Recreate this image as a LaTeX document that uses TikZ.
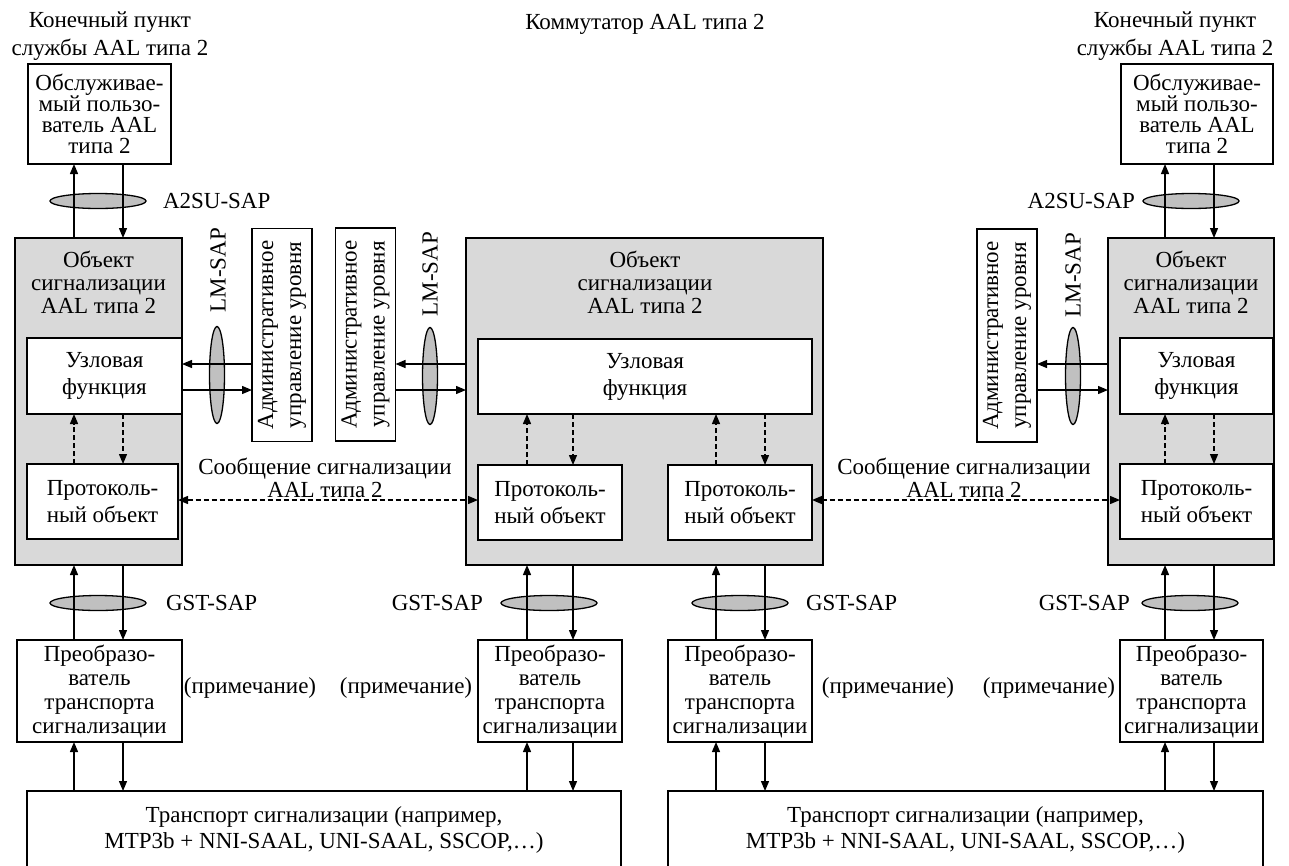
\documentclass[tikz,border=0pt]{standalone}
\usepackage{fontspec}
\setmainfont{Liberation Serif}
\usetikzlibrary{shapes.geometric,arrows.meta}
\definecolor{graybox}{RGB}{217,217,217}
\definecolor{sapgray}{RGB}{192,192,192}
\begin{document}
\begin{tikzpicture}[x=1pt,y=-1pt,
  font=\fontsize{23}{25}\selectfont,
  every node/.style={inner sep=0pt,outer sep=0pt},
  lw/.style={line width=1.3pt},
  box/.style={draw,lw,fill=white,align=center},
  gbox/.style={draw,lw,fill=graybox},
  sap/.style={draw,lw,ellipse,fill=sapgray},
  hsap/.style={sap,minimum width=96pt,minimum height=15pt},
  vsap/.style={sap,minimum width=15pt,minimum height=97pt},
  >={Triangle[length=10pt,width=8pt]},
  arr/.style={lw,->},
  darr/.style={lw,->,dash pattern=on 5pt off 3pt},
  ddarr/.style={lw,<->,dash pattern=on 5pt off 3pt},
  f20/.style={font=\fontsize{23}{21}\selectfont},
  f23/.style={font=\fontsize{23}{23}\selectfont},
  f24/.style={font=\fontsize{23}{24}\selectfont},
  f26/.style={font=\fontsize{23}{26}\selectfont},
  f27/.style={font=\fontsize{23}{27}\selectfont},
  f28/.style={font=\fontsize{23}{28}\selectfont},
  ttl/.style={f23,align=center,anchor=north},
  conv/.style={box,f24,minimum height=102pt},
  prot/.style={box,f27,minimum height=75pt},
  adm/.style={box,f28,rotate=90,minimum width=213pt,minimum height=60pt},
]
\useasboundingbox (0,0) rectangle (1289,865);

% ---------- headings ----------
\node[f28,align=center] (endL) at (110,36) {Конечный пункт\\службы AAL типа 2};
\node (sw) at (645,24) {Коммутатор AAL типа 2};
\node[f28,align=center] (endR) at (1175,36) {Конечный пункт\\службы AAL типа 2};

% ---------- left column ----------
\node[box,f20,minimum width=143pt,minimum height=100pt] (u1) at (99.5,114) {Обслуживае-\\мый пользо-\\ватель AAL\\типа 2};
\node[hsap] (s1) at (98,201) {};
\node[anchor=west] (s1t) at (163,201) {A2SU-SAP};
\node[gbox,minimum width=167pt,minimum height=327pt] (g1) at (98.5,401.5) {};
\node[ttl] (g1t) at (98.5,251) {Объект\\сигнализации\\AAL типа 2};
\node[box,f27,minimum width=155pt,minimum height=76pt] (n1) at (104.5,376) {Узловая\\функция};
\node[prot,minimum width=151pt] (p1) at (102.5,501.5) {Протоколь-\\ный объект};
\node[adm] (a1) at (282,335) {Административное\\управление уровня};
\node[vsap] (lm1) at (217,375) {};
\node[rotate=90] (lm1t) at (218,270) {LM-SAP};
\node[hsap] (s2) at (98,603) {};
\node[anchor=west] (s2t) at (166,603) {GST-SAP};
\node[conv,minimum width=165pt] (c1) at (99.5,691) {Преобразо-\\ватель\\транспорта\\сигнализации};
\node (nt1) at (250,688) {(примечание)};
\node[box,f26,minimum width=594pt,minimum height=77pt] (t1) at (324,829.5) {Транспорт сигнализации (например,\\MTP3b + NNI-SAAL, UNI-SAAL, SSCOP,…)};

% ---------- middle column ----------
\node[adm] (a2) at (365.5,334.5) {Административное\\управление уровня};
\node[vsap] (lm2) at (430,376) {};
\node[rotate=90] (lm2t) at (430,274) {LM-SAP};
\node[gbox,minimum width=357pt,minimum height=327pt] (g2) at (644.5,401.5) {};
\node[ttl] (g2t) at (645,251) {Объект\\сигнализации\\AAL типа 2};
\node[box,f27,minimum width=334pt,minimum height=75pt] (n2) at (645,376.5) {Узловая\\функция};
\node[prot,minimum width=144pt] (p2a) at (550,502.5) {Протоколь-\\ный объект};
\node[prot,minimum width=144pt] (p2b) at (740,502.5) {Протоколь-\\ный объект};
\node[hsap] (s3) at (549,603) {};
\node[anchor=east] (s3t) at (483,603) {GST-SAP};
\node[hsap] (s4) at (740,603) {};
\node[anchor=west] (s4t) at (806,603) {GST-SAP};
\node[conv,minimum width=144pt] (c2) at (550,691) {Преобразо-\\ватель\\транспорта\\сигнализации};
\node[conv,minimum width=144pt] (c3) at (740,691) {Преобразо-\\ватель\\транспорта\\сигнализации};
\node (nt2) at (406,688) {(примечание)};
\node (nt3) at (888,688) {(примечание)};
\node[box,f26,minimum width=595pt,minimum height=77pt] (t2) at (965.5,829.5) {Транспорт сигнализации (например,\\MTP3b + NNI-SAAL, UNI-SAAL, SSCOP,…)};

% ---------- right column ----------
\node[box,f20,minimum width=152pt,minimum height=100pt] (u2) at (1197,114) {Обслуживае-\\мый пользо-\\ватель AAL\\типа 2};
\node[hsap] (s5) at (1191,201) {};
\node[anchor=east] (s5t) at (1135,201) {A2SU-SAP};
\node[gbox,minimum width=166pt,minimum height=327pt] (g3) at (1191,401.5) {};
\node[ttl] (g3t) at (1191,251) {Объект\\сигнализации\\AAL типа 2};
\node[box,f27,minimum width=153pt,minimum height=76pt] (n3) at (1196.5,376) {Узловая\\функция};
\node[prot,minimum width=153pt] (p3) at (1196.5,501.5) {Протоколь-\\ный объект};
\node[adm] (a3) at (1007,335.5) {Административное\\управление уровня};
\node[vsap] (lm3) at (1073,376) {};
\node[rotate=90] (lm3t) at (1073,275) {LM-SAP};
\node[hsap] (s6) at (1190,603) {};
\node[anchor=east] (s6t) at (1130,603) {GST-SAP};
\node[conv,minimum width=143pt] (c4) at (1191.5,691) {Преобразо-\\ватель\\транспорта\\сигнализации};
\node (nt4) at (1049,688) {(примечание)};

% ---------- message labels ----------
\node[f23,align=center,anchor=south] (m1) at (325,498) {Сообщение сигнализации\\AAL типа 2};
\node[f23,align=center,anchor=south] (m2) at (964,498) {Сообщение сигнализации\\AAL типа 2};

% ---------- connectors: left ----------
\draw[arr] (74,0 |- g1.north) -- (74,0 |- u1.south);
\draw[arr] (123,0 |- u1.south) -- (123,0 |- g1.north);
\draw[darr] (74,0 |- p1.north) -- (74,0 |- n1.south);
\draw[darr] (123,0 |- n1.south) -- (123,0 |- p1.north);
\draw[arr] (a1.north |- 0,364) -- (n1.east |- 0,364);
\draw[arr] (n1.east |- 0,390) -- (a1.north |- 0,390);
\draw[arr] (74,0 |- c1.north) -- (74,0 |- g1.south);
\draw[arr] (123,0 |- g1.south) -- (123,0 |- c1.north);
\draw[arr] (74,0 |- t1.north) -- (74,0 |- c1.south);
\draw[arr] (123,0 |- c1.south) -- (123,0 |- t1.north);
\draw[ddarr] (p1.east |- 0,500) -- (p2a.west |- 0,500);

% ---------- connectors: middle ----------
\draw[arr] (g2.west |- 0,364) -- (a2.south |- 0,364);
\draw[arr] (a2.south |- 0,390) -- (g2.west |- 0,390);
\draw[darr] (527,0 |- p2a.north) -- (527,0 |- n2.south);
\draw[darr] (573,0 |- n2.south) -- (573,0 |- p2a.north);
\draw[darr] (716,0 |- p2b.north) -- (716,0 |- n2.south);
\draw[darr] (765,0 |- n2.south) -- (765,0 |- p2b.north);
\draw[arr] (527,0 |- c2.north) -- (527,0 |- g2.south);
\draw[arr] (573,0 |- g2.south) -- (573,0 |- c2.north);
\draw[arr] (716,0 |- c3.north) -- (716,0 |- g2.south);
\draw[arr] (765,0 |- g2.south) -- (765,0 |- c3.north);
\draw[arr] (527,0 |- t1.north) -- (527,0 |- c2.south);
\draw[arr] (573,0 |- c2.south) -- (573,0 |- t1.north);
\draw[arr] (716,0 |- t2.north) -- (716,0 |- c3.south);
\draw[arr] (765,0 |- c3.south) -- (765,0 |- t2.north);
\draw[ddarr] (p2b.east |- 0,500) -- (p3.west |- 0,500);

% ---------- connectors: right ----------
\draw[arr] (1165,0 |- g3.north) -- (1165,0 |- u2.south);
\draw[arr] (1214,0 |- u2.south) -- (1214,0 |- g3.north);
\draw[darr] (1165,0 |- p3.north) -- (1165,0 |- n3.south);
\draw[darr] (1214,0 |- n3.south) -- (1214,0 |- p3.north);
\draw[arr] (g3.west |- 0,364) -- (a3.south |- 0,364);
\draw[arr] (a3.south |- 0,390) -- (g3.west |- 0,390);
\draw[arr] (1165,0 |- c4.north) -- (1165,0 |- g3.south);
\draw[arr] (1214,0 |- g3.south) -- (1214,0 |- c4.north);
\draw[arr] (1165,0 |- t2.north) -- (1165,0 |- c4.south);
\draw[arr] (1214,0 |- c4.south) -- (1214,0 |- t2.north);
\end{tikzpicture}
\end{document}
